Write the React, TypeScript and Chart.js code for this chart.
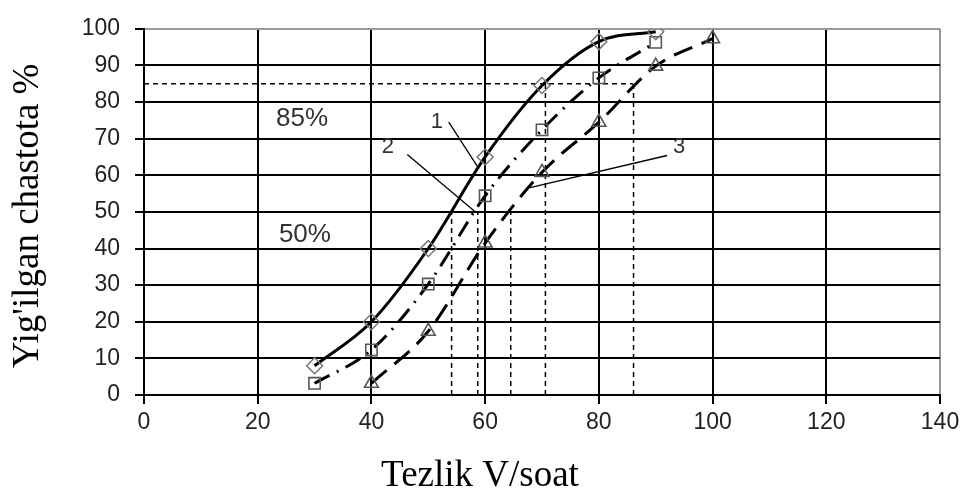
import React, { useEffect, useRef } from "react";
import { Chart, registerables } from "chart.js";

Chart.register(...registerables);

const xTitle = "Tezlik V/soat";
const yTitle = "Yig'ilgan chastota %";

const s1X = [30, 40, 50, 60, 70, 80, 90];
const s1Y = [8, 20, 40, 65, 84.5, 96.5, 99.2];
const s2X = [30, 40, 50, 60, 70, 80, 90];
const s2Y = [3.2, 12.3, 30.3, 54.4, 72.4, 86.6, 96.3];
const s3X = [40, 50, 60, 70, 80, 90, 100];
const s3Y = [3.2, 17.4, 41.5, 60.8, 74.5, 89.8, 97.3];

// reference (dashed) lines
const refH85X = [0, 86];
const refH85Y = [85, 85];
const ref50X = [54.1, 58.7, 64.5];
const ref85X = [70.6, 80, 86.1];

// text labels
const labelTexts = ["85%", "50%", "1", "2", "3"];
const labelX = [27.8, 28.3, 51.5, 42.9, 94.1];
const labelY = [75.5, 43.7, 74.5, 67.8, 67.8];
const labelSize = [26, 26, 22, 22, 22];

// leader lines
const leaderX1 = [53.6, 46.3, 92];
const leaderY1 = [74.5, 65.7, 65.4];
const leaderX2 = [58.6, 58.2, 67.9];
const leaderY2 = [62.5, 50.1, 56.6];

const pts = (xs: number[], ys: number[]) => xs.map((x, i) => ({ x, y: ys[i] }));

export default function App() {
  const ref = useRef<HTMLCanvasElement | null>(null);
  useEffect(() => {
    document.body.style.margin = "0";
    const canvas = ref.current!;
    const refStyle = {
      borderColor: "#000",
      borderWidth: 1.5,
      borderDash: [5, 4],
      pointRadius: 0,
      fill: false,
      tension: 0,
    };
    const datasets: any[] = [
      {
        label: "1",
        data: pts(s1X, s1Y),
        borderColor: "#000",
        borderWidth: 3,
        cubicInterpolationMode: "monotone",
        pointStyle: "rectRot",
        pointRadius: 8,
        pointBorderColor: "#777",
        pointBackgroundColor: "rgba(255,255,255,0)",
        pointBorderWidth: 1.5,
      },
      {
        label: "2",
        data: pts(s2X, s2Y),
        borderColor: "#000",
        borderWidth: 3,
        borderDash: [17, 8, 2, 8],
        cubicInterpolationMode: "monotone",
        pointStyle: "rect",
        pointRadius: 8,
        pointBorderColor: "#555",
        pointBackgroundColor: "rgba(255,255,255,0)",
        pointBorderWidth: 1.6,
      },
      {
        label: "3",
        data: pts(s3X, s3Y),
        borderColor: "#000",
        borderWidth: 3,
        borderDash: [20, 10],
        cubicInterpolationMode: "monotone",
        pointStyle: "triangle",
        pointRadius: 8,
        pointBorderColor: "#555",
        pointBackgroundColor: "rgba(255,255,255,0)",
        pointBorderWidth: 1.6,
      },
      { ...refStyle, data: pts(refH85X, refH85Y) },
      ...ref50X.map((x) => ({ ...refStyle, data: [{ x, y: 0 }, { x, y: 50 }] })),
      ...ref85X.map((x) => ({ ...refStyle, data: [{ x, y: 0 }, { x, y: 85 }] })),
    ];

    const annot = {
      id: "annot",
      afterDatasetsDraw(chart: any) {
        const { ctx, scales } = chart;
        const xs = scales.x;
        const ys = scales.y;
        ctx.save();
        ctx.strokeStyle = "#000";
        ctx.lineWidth = 1.3;
        for (let i = 0; i < leaderX1.length; i++) {
          ctx.beginPath();
          ctx.moveTo(xs.getPixelForValue(leaderX1[i]), ys.getPixelForValue(leaderY1[i]));
          ctx.lineTo(xs.getPixelForValue(leaderX2[i]), ys.getPixelForValue(leaderY2[i]));
          ctx.stroke();
        }
        ctx.fillStyle = "#333";
        ctx.textAlign = "center";
        ctx.textBaseline = "middle";
        for (let i = 0; i < labelTexts.length; i++) {
          ctx.font = `${labelSize[i]}px "Liberation Sans", Arial, sans-serif`;
          ctx.fillText(labelTexts[i], xs.getPixelForValue(labelX[i]), ys.getPixelForValue(labelY[i]));
        }
        ctx.fillStyle = "#000";
        ctx.font = `37px "Liberation Serif", "Times New Roman", serif`;
        ctx.fillText(xTitle, (xs.left + xs.right) / 2 - 62, 476);
        ctx.translate(28, (ys.top + ys.bottom) / 2 + 4);
        ctx.rotate(-Math.PI / 2);
        ctx.fillText(yTitle, 0, 0);
        ctx.restore();
      },
    };

    const tickFont = { family: '"Liberation Sans", Arial, sans-serif', size: 23 };
    const chart = new Chart(canvas, {
      type: "line",
      data: { datasets },
      plugins: [annot],
      options: {
        animation: false,
        responsive: false,
        layout: { padding: { top: 22, right: 25, left: 0, bottom: 0 } },
        plugins: { legend: { display: false }, tooltip: { enabled: false } },
        scales: {
          x: {
            type: "linear",
            min: 0,
            max: 140,
            ticks: { stepSize: 20, color: "#222", padding: 5, font: tickFont },
            grid: {
              color: (c: any) => (c.tick && c.tick.value === 140 ? "#999" : "#000"),
              lineWidth: 2,
              tickLength: 9,
              tickColor: "#000",
            },
            border: { color: "#000", width: 2 },
            afterFit: (s: any) => {
              s.height = 99;
            },
          },
          y: {
            min: 0,
            max: 100,
            ticks: { stepSize: 10, color: "#222", padding: 15, font: tickFont },
            grid: {
              color: (c: any) => (c.tick && c.tick.value === 100 ? "#999" : "#000"),
              lineWidth: 2,
              tickLength: 9,
              tickColor: "#000",
            },
            border: { color: "#000", width: 2 },
            afterFit: (s: any) => {
              s.width = 144;
            },
          },
        },
      },
    });
    return () => chart.destroy();
  }, []);
  return (
    <div style={{ position: "fixed", left: 0, top: 0, width: 965, height: 494, background: "#fff" }}>
      <canvas ref={ref} width={965} height={494} />
    </div>
  );
}
